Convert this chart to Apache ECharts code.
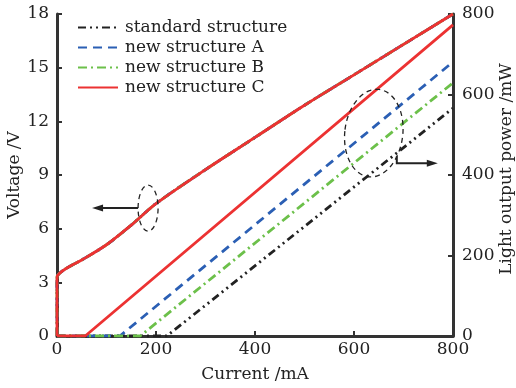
<!DOCTYPE html>
<html>
<head>
<meta charset="utf-8">
<script src="https://cdn.jsdelivr.net/npm/echarts@6/dist/echarts.min.js"></script>
<style>
  html, body { margin: 0; padding: 0; background: #fff; }
  #chart { width: 516px; height: 388px; }
</style>
</head>
<body>
<div id="chart"></div>
<script>
// series names
const names = ['standard structure', 'new structure A', 'new structure B', 'new structure C'];

// voltage curve (all four structures overlap)
const vCurrent = [0, 0, 5, 20, 50, 100, 150, 200, 300, 400, 500, 600, 700, 800];
const vVoltage = [0, 3.3, 3.5, 3.8, 4.25, 5.1, 6.2, 7.4, 9.3, 11.1, 12.9, 14.6, 16.3, 18.0];

// light output power: [current mA, power mW]
const pStandard = [[0, 0], [222, 0], [800, 566]];
const pA = [[0, 0], [127, 0], [800, 681]];
const pB = [[0, 0], [168, 0], [800, 629]];
const pC = [[0, 0], [57, 0], [800, 773]];

const colors = ['#222222', '#2b5fb4', '#6cc04a', '#ec3232'];
const dashes = [[8, 4, 2, 4, 2, 4], [9, 6], [9, 4, 2, 4], 'solid'];
const fontFam = 'DejaVu Serif';

var voltageData = vCurrent.map(function (c, i) { return [c, vVoltage[i]]; });
var powerData = [pStandard, pA, pB, pC];

var series = [];
// voltage lines, red last so it lies on top
for (var i = 0; i < 4; i++) {
    series.push({
        name: names[i],
        type: 'line',
        yAxisIndex: 0,
        showSymbol: false,
        symbol: 'none',
        smooth: 0.3,
        data: voltageData,
        lineStyle: { color: colors[i], width: 2.8, type: dashes[i] },
        itemStyle: { color: colors[i] },
        z: 2 + i
    });
}
for (var j = 0; j < 4; j++) {
    series.push({
        name: names[j],
        type: 'line',
        yAxisIndex: 1,
        showSymbol: false,
        symbol: 'none',
        data: powerData[j],
        lineStyle: { color: colors[j], width: 2.8, type: dashes[j] },
        itemStyle: { color: colors[j] },
        z: 2 + j
    });
}

var axisCommon = {
    axisLine: { show: true, lineStyle: { color: '#333', width: 3 } },
    axisTick: { show: true, inside: true, length: 5, lineStyle: { color: '#333', width: 2 } },
    splitLine: { show: false },
    nameMoveOverlap: false,
    axisLabel: { color: '#222', fontSize: 17, fontFamily: fontFam },
    nameTextStyle: { color: '#222', fontSize: 17, fontFamily: fontFam }
};

var chart = echarts.init(document.getElementById('chart'), null, { renderer: 'canvas' });
chart.setOption({
    animation: false,
    grid: { left: 57, right: 63, top: 14, bottom: 52, containLabel: false, outerBoundsMode: 'none' },
    legend: {
        data: names,
        orient: 'vertical',
        left: 72,
        top: 14,
        itemGap: 3,
        itemWidth: 40,
        itemHeight: 14,
        itemStyle: { opacity: 0 },
        textStyle: { color: '#222', fontSize: 17, fontFamily: fontFam, padding: [0, 0, 0, 2] }
    },
    xAxis: Object.assign({}, axisCommon, {
        type: 'value',
        min: 0, max: 800, interval: 200,
        name: 'Current /mA',
        nameLocation: 'middle',
        nameGap: 30,
        axisLabel: Object.assign({}, axisCommon.axisLabel, { margin: 5 })
    }),
    yAxis: [
        Object.assign({}, axisCommon, {
            type: 'value',
            min: 0, max: 18, interval: 3,
            name: 'Voltage /V',
            nameLocation: 'middle',
            nameRotate: 90,
            nameGap: 34,
            axisLabel: Object.assign({}, axisCommon.axisLabel, { margin: 8 })
        }),
        Object.assign({}, axisCommon, {
            type: 'value',
            position: 'right',
            min: 0, max: 800, interval: 200,
            name: 'Light output power /mW',
            nameLocation: 'middle',
            nameRotate: 90,
            nameGap: 45,
            nameTextStyle: Object.assign({}, axisCommon.nameTextStyle, { padding: [0, 0, 0, 12] }),
            axisLabel: Object.assign({}, axisCommon.axisLabel, { margin: 9 })
        })
    ],
    series: series
});

// annotation ellipses and arrows, anchored in data space
var e1 = chart.convertToPixel({ xAxisIndex: 0, yAxisIndex: 0 }, [184, 7.15]);
var e2 = chart.convertToPixel({ xAxisIndex: 0, yAxisIndex: 1 }, [640, 504]);
var annStroke = { fill: null, stroke: '#222', lineWidth: 1.3, lineDash: [5, 4] };
var arrowStyle = { fill: null, stroke: '#222', lineWidth: 2 };

chart.setOption({
    graphic: [
        { type: 'ellipse', shape: { cx: e1[0], cy: e1[1], rx: 10, ry: 23 }, style: annStroke, z: 100 },
        { type: 'line', shape: { x1: e1[0] - 10, y1: e1[1], x2: e1[0] - 48, y2: e1[1] }, style: arrowStyle, z: 100 },
        { type: 'polygon', shape: { points: [[e1[0] - 56, e1[1]], [e1[0] - 45, e1[1] - 3.5], [e1[0] - 45, e1[1] + 3.5]] },
          style: { fill: '#222' }, z: 100 },
        { type: 'ellipse', shape: { cx: e2[0], cy: e2[1], rx: 29, ry: 44 }, rotation: -0.12,
          x: 0, y: 0, originX: e2[0], originY: e2[1], style: annStroke, z: 100 },
        { type: 'polyline', shape: { points: [[e2[0] + 23, e2[1] + 23], [e2[0] + 23, e2[1] + 30], [e2[0] + 55, e2[1] + 30]] },
          style: arrowStyle, z: 100 },
        { type: 'polygon', shape: { points: [[e2[0] + 64, e2[1] + 30], [e2[0] + 53, e2[1] + 26.5], [e2[0] + 53, e2[1] + 33.5]] },
          style: { fill: '#222' }, z: 100 }
    ]
});
</script>
</body>
</html>
